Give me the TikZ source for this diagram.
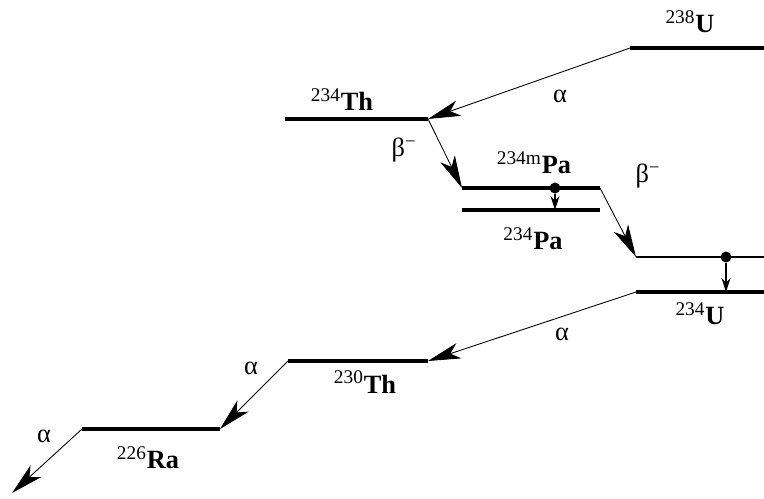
\documentclass[tikz,border=0pt]{standalone}
\usepackage{fontspec}
\setmainfont{Liberation Serif}
\usepackage{tikz}
\usetikzlibrary{arrows.meta}
\newcommand{\nuc}[2]{\textsuperscript{\fontsize{11}{11}\selectfont #1}\textbf{#2}}
\tikzset{
  level/.style={line width=1.8pt},
  thinlevel/.style={line width=1pt},
  decay/.style={-{Stealth[length=6.5mm,width=3.2mm,inset=1.8mm]}, line width=0.5pt},
  gamma/.style={-{Stealth[length=2.8mm,width=1.8mm]}, line width=0.6pt},
  iso/.style={font=\fontsize{15}{15}\selectfont, inner sep=0pt},
  lab/.style={font=\fontsize{15}{15}\selectfont, inner sep=0pt},
  dot/.style={circle, fill, inner sep=0pt, minimum size=2.2mm},
}
\begin{document}
\begin{tikzpicture}[x=0.02cm, y=-0.02cm]
  \useasboundingbox (0,0) rectangle (764,498);

  % levels
  \coordinate (U8a)  at (630,48);  \coordinate (U8b)  at (764,48);
  \coordinate (Th4a) at (285,119); \coordinate (Th4b) at (428,119);
  \coordinate (Pma)  at (462,188); \coordinate (Pmb)  at (600,188);
  \coordinate (Paa)  at (462,210); \coordinate (Pab)  at (600,210);
  \coordinate (Uxa)  at (636,257); \coordinate (Uxb)  at (764,257);
  \coordinate (U4a)  at (636,292); \coordinate (U4b)  at (764,292);
  \coordinate (Th0a) at (288,361); \coordinate (Th0b) at (428,361);
  \coordinate (Raa)  at (82,429);  \coordinate (Rab)  at (220,429);
  \coordinate (end)  at (12,493);

  \draw[level] (U8a) -- (U8b);
  \draw[level] (Th4a) -- (Th4b);
  \draw[level] (Pma) -- (Pmb);
  \draw[level] (Paa) -- (Pab);
  \draw[thinlevel] (Uxa) -- (Uxb);
  \draw[level] (U4a) -- (U4b);
  \draw[level] (Th0a) -- (Th0b);
  \draw[level] (Raa) -- (Rab);

  % names
  \node[iso] (nU8)  at (690,22)  {\nuc{238}{U}};
  \node[iso] (nTh4) at (342,100) {\nuc{234}{Th}};
  \node[iso] (nPm)  at (534,163) {\nuc{234m}{Pa}};
  \node[iso] (nPa)  at (533,239) {\nuc{234}{Pa}};
  \node[iso] (nU4)  at (700,314) {\nuc{234}{U}};
  \node[iso] (nTh0) at (365,382) {\nuc{230}{Th}};
  \node[iso] (nRa)  at (148,458) {\nuc{226}{Ra}};

  % decays
  \draw[decay] (U8a) -- (Th4b);
  \draw[decay] (Th4b) -- (Pma);
  \draw[decay] (Pmb) -- (Uxa);
  \draw[decay] (U4a) -- (Th0b);
  \draw[decay] (Th0a) -- (Rab);
  \draw[decay] (Raa) -- (end);

  \node[lab] (a1) at (560,96)  {α};
  \node[lab] (b1) at (404,150) {β\textsuperscript{−}};
  \node[lab] (b2) at (648,176) {β\textsuperscript{−}};
  \node[lab] (a2) at (562,334) {α};
  \node[lab] (a3) at (251,368) {α};
  \node[lab] (a4) at (44,436)  {α};

  % isomeric transitions
  \node[dot] (d1) at (555,188) {};
  \coordinate (d1e) at (555,210);
  \draw[gamma] (d1) -- (d1e);
  \node[dot] (d2) at (726,257) {};
  \coordinate (d2e) at (726,292);
  \draw[gamma] (d2) -- (d2e);
\end{tikzpicture}
\end{document}
